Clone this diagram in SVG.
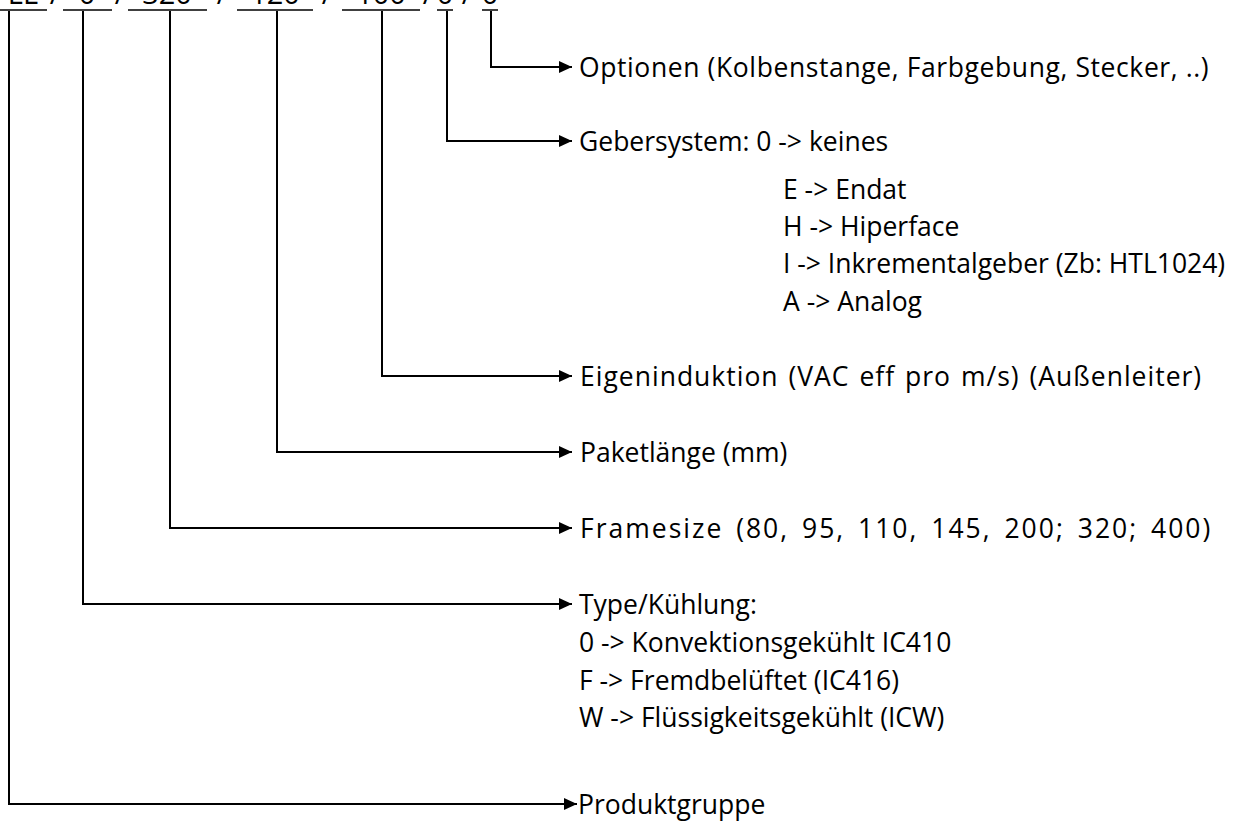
<svg xmlns="http://www.w3.org/2000/svg" width="1252" height="825" viewBox="0 0 1252 825">
<style>
.lbl{font-family:"Open Sans","Noto Sans","DejaVu Sans",sans-serif;font-size:26.5px;fill:#000}
.code{font-family:"Open Sans","Noto Sans","DejaVu Sans",sans-serif;font-size:29px;fill:#000}
.con{fill:none;stroke:#000;stroke-width:2}
.ul{stroke:#000;stroke-width:1.5}
</style>
<defs>
<marker id="arr" markerUnits="userSpaceOnUse" markerWidth="14" markerHeight="14" refX="13" refY="7" orient="auto">
<path d="M0,1 L13,7 L0,13 Z" fill="#000"/>
</marker>
</defs>
<rect width="1252" height="825" fill="#fff"/>
<g id="code">
<text class="code" y="4" text-anchor="middle"><tspan x="23">LL</tspan><tspan x="55">/</tspan><tspan x="87">0</tspan><tspan x="120">/</tspan><tspan x="167">320</tspan><tspan x="222">/</tspan><tspan x="275">120</tspan><tspan x="327">/</tspan><tspan x="381">100</tspan><tspan x="428">/</tspan><tspan x="445">0</tspan><tspan x="467">/</tspan><tspan x="490">0</tspan></text>
<line class="ul" x1="0" y1="10" x2="47" y2="10"/>
<line class="ul" x1="63" y1="10" x2="112" y2="10"/>
<line class="ul" x1="128" y1="10" x2="207" y2="10"/>
<line class="ul" x1="237" y1="10" x2="313" y2="10"/>
<line class="ul" x1="342" y1="10" x2="420" y2="10"/>
<line class="ul" x1="437" y1="10" x2="453" y2="10"/>
<line class="ul" x1="482" y1="10" x2="498" y2="10"/>
</g>
<g id="connectors">
<path class="con" d="M491,11 V67 H572" marker-end="url(#arr)"/>
<path class="con" d="M447,11 V141 H572" marker-end="url(#arr)"/>
<path class="con" d="M382,11 V376 H572" marker-end="url(#arr)"/>
<path class="con" d="M277,11 V452 H572" marker-end="url(#arr)"/>
<path class="con" d="M170,11 V528 H572" marker-end="url(#arr)"/>
<path class="con" d="M83,11 V604 H572" marker-end="url(#arr)"/>
<path class="con" d="M9,11 V804 H577" marker-end="url(#arr)"/>
</g>
<g id="optionen"><text class="lbl" x="579" y="77" letter-spacing="0.6">Optionen (Kolbenstange, Farbgebung, Stecker, ..)</text></g>
<g id="gebersystem">
<text class="lbl" x="579" y="151">Gebersystem: 0 -&gt; keines</text>
<text class="lbl" x="783" y="199">E -&gt; Endat</text>
<text class="lbl" x="783" y="236">H -&gt; Hiperface</text>
<text class="lbl" x="783" y="273">I -&gt; Inkrementalgeber (Zb: HTL1024)</text>
<text class="lbl" x="783" y="311">A -&gt; Analog</text>
</g>
<g id="eigeninduktion"><text class="lbl" x="580" y="386" word-spacing="2" letter-spacing="1">Eigeninduktion (VAC eff pro m/s) (Außenleiter)</text></g>
<g id="paketlaenge"><text class="lbl" x="580" y="462">Paketlänge (mm)</text></g>
<g id="framesize"><text class="lbl" x="580" y="538" word-spacing="4" letter-spacing="2">Framesize (80, 95, 110, 145, 200; 320; 400)</text></g>
<g id="type">
<text class="lbl" x="579" y="614">Type/Kühlung:</text>
<text class="lbl" x="579" y="652">0 -&gt; Konvektionsgekühlt IC410</text>
<text class="lbl" x="579" y="690">F -&gt; Fremdbelüftet (IC416)</text>
<text class="lbl" x="579" y="727">W -&gt; Flüssigkeitsgekühlt (ICW)</text>
</g>
<g id="produktgruppe"><text class="lbl" x="578" y="814">Produktgruppe</text></g>
</svg>
